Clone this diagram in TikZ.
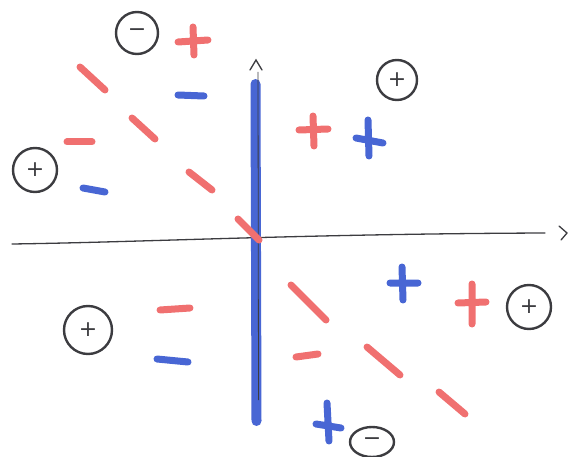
\documentclass[tikz,border=0pt]{standalone}
\usepackage{fontspec}
\setmainfont{DejaVu Sans}
\usetikzlibrary{shapes.geometric}
\definecolor{mred}{RGB}{240,112,112}
\definecolor{mblue}{RGB}{72,102,212}
\definecolor{ink}{RGB}{60,60,64}
\tikzset{
  redmark/.style={mred,line width=7pt,line cap=round},
  bluemark/.style={mblue,line width=7pt,line cap=round},
  circled/.style={circle,draw=ink,line width=2.4pt,inner sep=0pt,minimum size=40pt,text=ink,font=\fontsize{22}{22}\selectfont},
  axisline/.style={ink,line width=1.3pt,line cap=round}
}
\begin{document}
\begin{tikzpicture}[x=1pt,y=-1pt]
\useasboundingbox (0,0) rectangle (570,457);
% horizontal axis
\coordinate (hx0) at (12,244);
\coordinate (hx1) at (545,233);
\draw[axisline] (hx0) .. controls (150,242) and (300,234) .. (hx1);
\coordinate (hta) at (559,226);
\coordinate (htb) at (567,233);
\coordinate (htc) at (561,240);
\draw[axisline] (hta) -- (htb) -- (htc);
% vertical axis
\coordinate (vy0) at (255.5,84);
\coordinate (vy1) at (256.5,421);
\draw[mblue,line width=10pt,line cap=round] (vy0) -- (vy1);
\draw[ink,line width=0.8pt] (258,72) -- (258.5,400);
\coordinate (vta) at (250,70);
\coordinate (vtb) at (256,60);
\coordinate (vtc) at (262,70);
\draw[axisline] (vta) -- (vtb) -- (vtc);
% red diagonal marks
\draw[redmark] (80,67) -- (105,90);
\draw[redmark] (132,118) -- (155,139);
\draw[redmark] (189,172) -- (212,190);
\draw[redmark] (238,219) -- (259,240);
\draw[redmark] (291,285) -- (326,320);
\draw[redmark] (367,347) -- (400,375);
\draw[redmark] (439,392) -- (465,414);
% red horizontal dashes
\draw[redmark] (67,142) -- (92,142);
\draw[redmark] (160,310) -- (190,308);
\draw[redmark] (296,357) -- (318,354);
% blue dashes
\draw[bluemark] (178,95) -- (204,96);
\draw[bluemark] (83,188) -- (105,192);
\draw[bluemark] (157,359) -- (188,362);
% red pluses
\draw[redmark] (178,42) -- (208,40) (193,27) -- (194,55);
\draw[redmark] (299,130) -- (328,129) (313,116) -- (314,146);
\draw[redmark] (458,303) -- (486,302) (472,284) -- (472,324);
% blue pluses
\draw[bluemark] (356,138) -- (383,143) (368,120) -- (369,156);
\draw[bluemark] (390,283) -- (418,283) (402,267) -- (403,300);
\draw[bluemark] (316,424) -- (341,428) (327,403) -- (329,441);
% circled signs
\node[circled,minimum size=42pt] (c1) at (137,33) {−};
\node[circled,minimum size=44pt] (c2) at (35,170) {+};
\node[circled,minimum size=40pt] (c3) at (397,80) {+};
\node[circled,minimum size=48pt] (c4) at (88,330) {+};
\node[circled,minimum size=44pt] (c5) at (529,307) {+};
\node[circled,shape=ellipse,minimum width=44pt,minimum height=30pt] (c6) at (372,442) {−};
\end{tikzpicture}
\end{document}
